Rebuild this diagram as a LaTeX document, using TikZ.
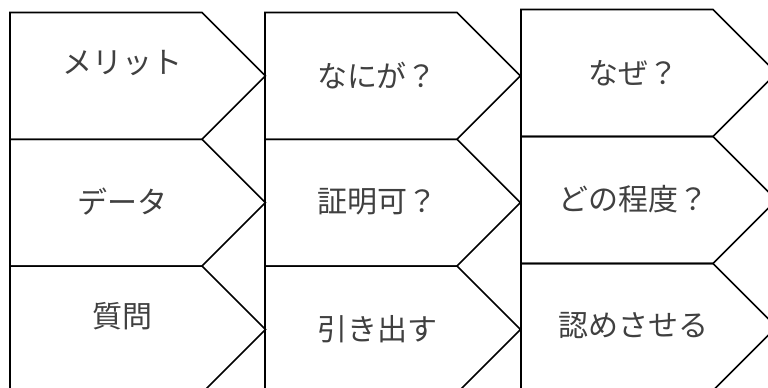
\documentclass[tikz,border=0pt]{standalone}
\usepackage{fontspec}
\setmainfont{Noto Sans CJK JP}
\begin{document}
\begin{tikzpicture}[x=1pt,y=-1pt,
  shp/.style={draw=black, line width=1.6pt, line join=miter},
  lbl/.style={font=\fontsize{30}{32}\selectfont, text=black!75, inner sep=0pt}]
\useasboundingbox (0,0) rectangle (768,388);
\clip (0,0) rectangle (768,388);
% chevron shapes: left x, top y, height
\foreach \lx/\ty/\h in {10/12.5/126.8, 10/139.3/126.8, 10/266.1/126.8,
                        265/12.5/126.8, 265/139.3/126.8, 265/266.1/126.8,
                        521/9.5/127, 521/136.5/127, 521/263.5/127}{
  \draw[shp] (\lx,\ty) -- ++(192,0) -- ++(0.5*\h,0.5*\h) -- ++(-0.5*\h,0.5*\h) -- ++(-192,0) -- cycle;
}
% labels
\node[lbl] (a1) at (122,63)  {メリット};
\node[lbl] (a2) at (122,202) {データ};
\node[lbl] (a3) at (122,316) {質問};
\node[lbl] (b1) at (377,76)  {なにが？};
\node[lbl] (b2) at (377,202) {証明可？};
\node[lbl] (b3) at (377,329) {引き出す};
\node[lbl] (c1) at (633,73)  {なぜ？};
\node[lbl] (c2) at (633,199) {どの程度？};
\node[lbl] (c3) at (633,326) {認めさせる};
\end{tikzpicture}
\end{document}
